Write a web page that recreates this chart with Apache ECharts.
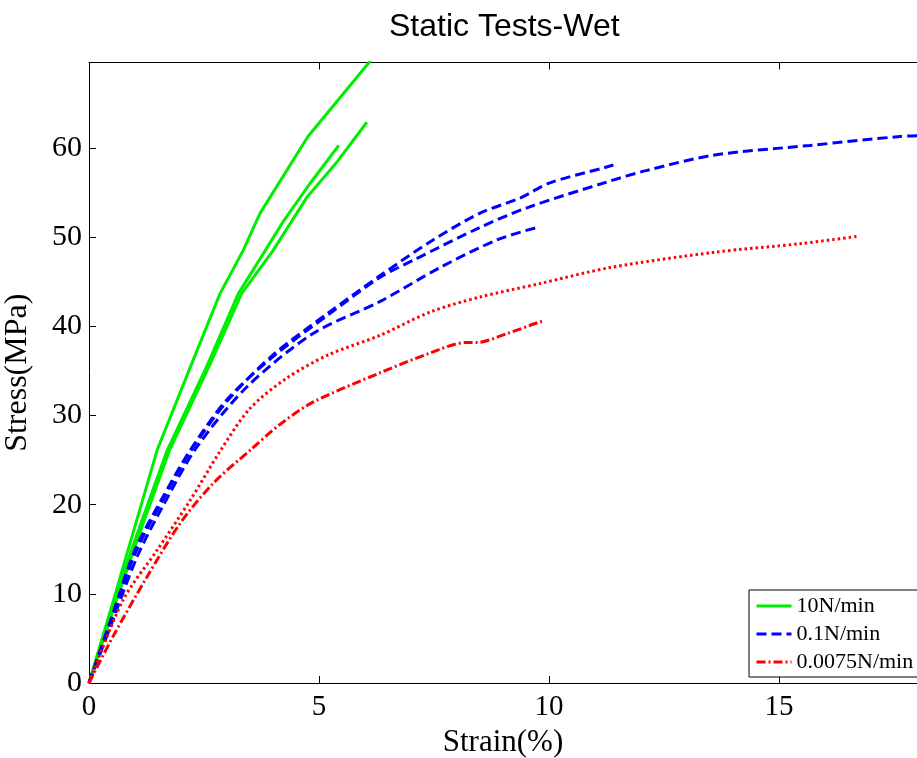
<!DOCTYPE html>
<html>
<head>
<meta charset="utf-8">
<script src="https://cdn.jsdelivr.net/npm/echarts@6/dist/echarts.min.js"></script>
<style>
  html, body { margin: 0; padding: 0; background: #fff; }
  #chart { width: 917px; height: 758px; }
</style>
</head>
<body>
<div id="chart"></div>
<script>
// strain (%) / stress (MPa) pairs
const green1 = [[0, 0], [0.5, 8.7], [1, 17.6], [1.48, 26.1], [2.2, 35.4], [2.85, 43.7], [3.35, 48.5], [3.72, 52.7], [4.76, 61.3], [6.12, 69.8]];
const green2 = [[0, 0], [0.55, 9.3], [1.1, 17.5], [1.7, 26.1], [2.55, 35.4], [3.25, 43.7], [3.83, 48.5], [4.24, 51.9], [4.8, 56], [5.43, 60.3]];
const green3 = [[0, 0], [0.6, 9.3], [1.15, 17.5], [1.75, 26.1], [2.6, 35.4], [3.32, 43.7], [4.0, 48.5], [4.74, 54.5], [5.4, 58.5], [6.04, 62.9]];

const blueA = [[0, 0], [0.5, 7.5], [1.0, 14.9], [1.6, 20.8], [2.2, 26.1], [3.0, 31.8], [4.0, 36.6], [5.2, 41.3], [6.33, 45.5], [7.04, 47.4], [8.5, 51.1], [9.52, 53.3], [11.26, 56.2], [12.13, 57.5], [13.57, 59.2], [15.67, 60.3], [17.63, 61.3], [18.1, 61.4]];
const blueB = [[0, 0], [0.5, 7.2], [1.0, 14.5], [1.6, 20.5], [2.2, 25.9], [3.0, 31.6], [4.0, 36.8], [5.2, 41.5], [6.33, 45.7], [7.48, 49.7], [8.5, 52.7], [9.37, 54.4], [10.02, 56.1], [11.2, 57.8], [11.4, 58.1]];
const blueC = [[0, 0], [0.5, 6.8], [1.05, 14.2], [1.6, 19.8], [2.35, 26.5], [3.43, 33.2], [4.87, 39.2], [6.33, 42.8], [7.63, 46.6], [8.87, 49.7], [9.74, 51.1]];

const redDashDot = [[0, 0], [0.52, 5.2], [1.26, 11.9], [1.98, 17.9], [2.7, 22.4], [3.5, 26.1], [4.15, 29.0], [4.87, 31.5], [6.33, 34.8], [7.41, 37], [8.2, 38.2], [8.43, 38.2], [9.09, 39.2], [9.8, 40.5], [9.91, 40.6]];
const redDotted = [[0, 0], [0.74, 9.3], [1.48, 14.9], [2.2, 20.5], [2.85, 26.0], [3.5, 30.8], [4.3, 34.2], [5.2, 36.8], [6.33, 39], [7.41, 41.6], [8.5, 43.3], [9.8, 44.8], [11.33, 46.6], [13.57, 48.3], [15.5, 49.3], [16.7, 50.1]];

const legendNames = ['10N/min', '0.1N/min', '0.0075N/min'];
const xTicks = { min: 0, max: 18, interval: 5 };
const yTicks = { min: 0, max: 69.6, interval: 10 };

const serif = "'Liberation Serif', 'Times New Roman', serif";

function line(name, data, color, type, smooth) {
  return {
    type: 'line',
    name,
    data,
    symbol: 'none',
    showSymbol: false,
    smooth: smooth || false,
    clip: true,
    lineStyle: { color, width: 3, type },
    itemStyle: { color },
  };
}

const chart = echarts.init(document.getElementById('chart'), null, { renderer: 'canvas' });

chart.setOption({
  animation: false,
  backgroundColor: '#fff',
  title: {
    text: 'Static Tests-Wet',
    left: 384,
    top: 6,
    textStyle: {
      fontFamily: "'Liberation Sans', Arial, sans-serif",
      fontSize: 32,
      fontWeight: 'normal',
      color: '#000',
    },
  },
  grid: { left: 89, top: 62.5, right: 0, bottom: 75, outerBoundsMode: 'none', containLabel: false },
  legend: {
    data: legendNames,
    orient: 'vertical',
    left: 749,
    top: 590,
    padding: [5, 5, 4, 6],
    itemGap: 6,
    itemWidth: 35,
    itemHeight: 14,
    borderColor: '#000',
    borderWidth: 1,
    backgroundColor: '#fff',
    itemStyle: { opacity: 0 },
    lineStyle: { width: 3 },
    textStyle: { fontFamily: serif, fontSize: 22, color: '#000' },
  },
  xAxis: [
    {
      type: 'value',
      ...xTicks,
      name: 'Strain(%)',
      nameLocation: 'middle',
      nameGap: 40,
      nameTextStyle: { fontFamily: serif, fontSize: 31, color: '#000' },
      axisLine: { onZero: false, lineStyle: { color: '#000', width: 1 } },
      axisTick: { inside: true, length: 7, lineStyle: { color: '#000' } },
      axisLabel: { fontFamily: serif, fontSize: 29, color: '#000', margin: 10, showMaxLabel: false },
      splitLine: { show: false },
    },
    {
      type: 'value',
      position: 'top',
      ...xTicks,
      axisLine: { onZero: false, lineStyle: { color: '#000', width: 1 } },
      axisTick: { inside: true, length: 7, lineStyle: { color: '#000' } },
      axisLabel: { show: false },
      splitLine: { show: false },
    },
  ],
  yAxis: {
    type: 'value',
    ...yTicks,
    name: 'Stress(MPa)',
    nameLocation: 'middle',
    nameGap: 55,
    nameTextStyle: { fontFamily: serif, fontSize: 32, color: '#000' },
    axisLine: { onZero: false, lineStyle: { color: '#000', width: 1 } },
    axisTick: { inside: true, length: 7, lineStyle: { color: '#000' } },
    axisLabel: { fontFamily: serif, fontSize: 30, color: '#000', margin: 7, showMaxLabel: false },
    splitLine: { show: false },
  },
  series: [
    line(legendNames[0], green1, '#00ee00', 'solid'),
    line(legendNames[0], green2, '#00ee00', 'solid'),
    line(legendNames[0], green3, '#00ee00', 'solid'),
    line(legendNames[1], blueA, '#0000ff', [10, 5], 0.3),
    line(legendNames[1], blueB, '#0000ff', [10, 5], 0.3),
    line(legendNames[1], blueC, '#0000ff', [10, 5], 0.3),
    line(legendNames[2], redDashDot, '#ff0000', [9, 3, 2, 3], 0.3),
    line(legendNames[2], redDotted, '#ff0000', [2.5, 3], 0.3),
  ],
});
</script>
</body>
</html>
